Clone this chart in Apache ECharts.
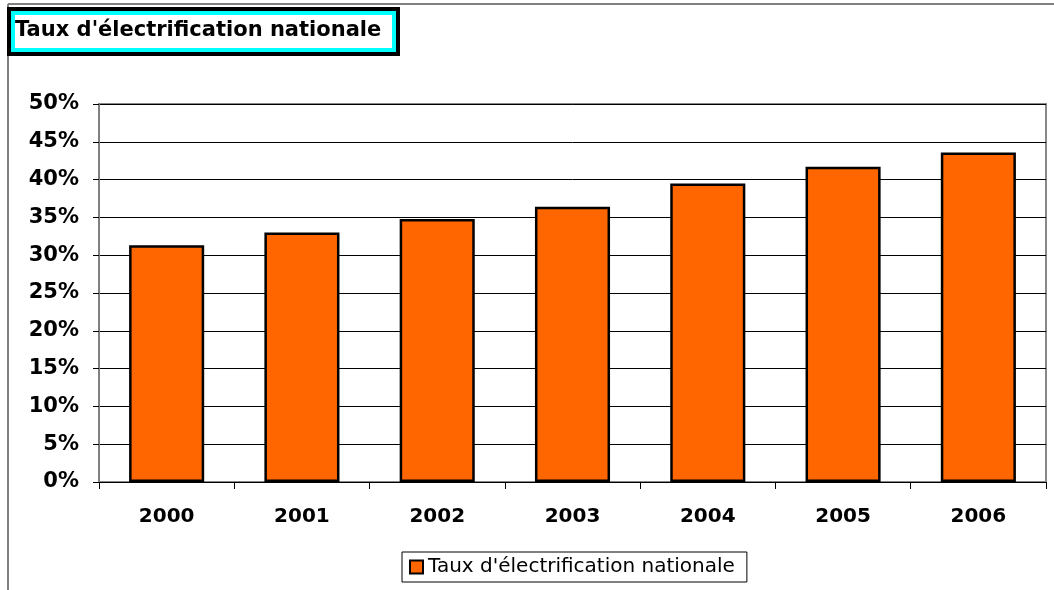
<!DOCTYPE html>
<html><head><meta charset="utf-8">
<script src="https://cdn.jsdelivr.net/npm/echarts@6/dist/echarts.min.js"></script>
<style>html,body{margin:0;padding:0;background:#fff}#c{width:1054px;height:590px}</style>
</head><body><div id="c"></div>
<script>
const categories = ['2000','2001','2002','2003','2004','2005','2006'];
const values = [31.3, 33.0, 34.8, 36.4, 39.5, 41.7, 43.6];
const seriesName = "Taux d'électrification nationale";
const titleText = "Taux d'électrification nationale";

const chart = echarts.init(document.getElementById('c'));
const font = 'DejaVu Sans, Liberation Sans, Arial, sans-serif';
chart.setOption({
  animation: false,
  backgroundColor: '#fff',
  graphic: [
    {type:'line', shape:{x1:8,y1:4,x2:1054,y2:4}, style:{stroke:'#808080', lineWidth:2}, z:0},
    {type:'line', shape:{x1:8,y1:4,x2:8,y2:590}, style:{stroke:'#808080', lineWidth:2}, z:0},
    {type:'rect', shape:{x:9,y:9,width:389,height:45}, style:{fill:'#fff', stroke:'#000', lineWidth:4}, z:1},
    {type:'rect', shape:{x:13,y:13,width:381,height:37}, style:{fill:'#fff', stroke:'#00ffff', lineWidth:4}, z:2}
  ],
  title: {
    text: titleText, left: 15, top: 20, padding: 0,
    textStyle: {fontFamily: font, fontWeight: 'bold', fontSize: 21, color: '#000'},
    z: 10
  },
  legend: {
    data: [seriesName], left: 402, top: 552, padding: [5, 12, 5, 7],
    borderColor: '#000', borderWidth: 1, itemWidth: 13, itemHeight: 13, itemGap: 4,
    textStyle: {fontFamily: font, fontSize: 20, color: '#000', padding: [0, 0, 0, 0]},
    icon: 'rect'
  },
  grid: {left: 99, right: 8, top: 104, bottom: 108, show: true, borderColor: '#888', borderWidth: 2},
  xAxis: {
    type: 'category', data: categories, boundaryGap: true,
    axisLine: {lineStyle: {color: '#000', width: 1}},
    axisTick: {show: true, length: 7, alignWithLabel: false, lineStyle: {color: '#000'}},
    axisLabel: {fontFamily: font, fontWeight: 'bold', fontSize: 20, color: '#000', margin: 25}
  },
  yAxis: {
    type: 'value', min: 0, max: 50, interval: 5,
    axisLine: {show: true, lineStyle: {color: '#808080', width: 2}},
    axisTick: {show: true, length: 6, lineStyle: {color: '#000'}},
    splitLine: {lineStyle: {color: '#000', width: 1}},
    axisLabel: {formatter: '{value}%', fontFamily: font, fontWeight: 'bold', fontSize: 21, color: '#000', margin: 20}
  },
  series: [{
    name: seriesName, type: 'bar', data: values, barCategoryGap: '44.5%',
    itemStyle: {color: '#ff6600', borderColor: '#000', borderWidth: 2.5}
  }]
});
</script></body></html>
